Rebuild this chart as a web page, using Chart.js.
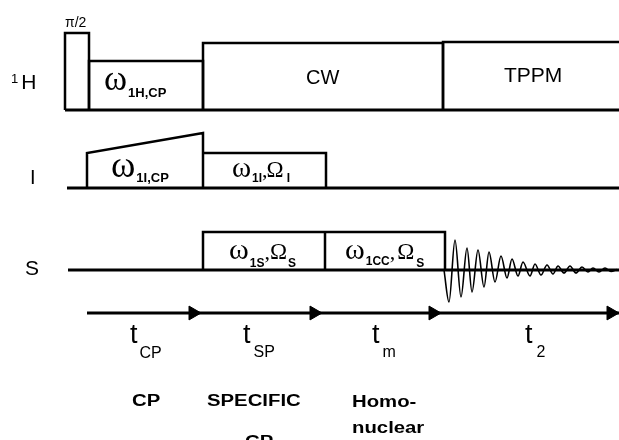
<!DOCTYPE html>
<html>
<head>
<meta charset="utf-8">
<script src="https://cdn.jsdelivr.net/npm/chart.js@4.4.1/dist/chart.umd.min.js"></script>
<style>
  body { margin: 0; background: #fff; }
  #wrap { width: 619px; height: 440px; }
</style>
</head>
<body>
<div id="wrap"><canvas id="seq" width="619" height="440"></canvas></div>
<script>
// Pulse sequence (time runs left -> right, y grows downward)
const sweepEnd = 619;

// 1H channel: pi/2 pulse, CP spin lock, CW decoupling, TPPM decoupling
const hEdges = [65, 89, 203, 443, 619];
const hTops = [33, 61, 43, 42];
const hBase = 110;

// I channel: ramped CP, then selective spin lock
const iStart = 67;
const iBase = 188;
const iRampX = [87, 203];
const iRampTop = [153, 133];
const iSpecEdges = [203, 326];
const iSpecTop = 153;

// S channel: specific CP and homonuclear mixing, then the FID
const sStart = 68;
const sBase = 270;
const sEdges = [203, 325, 445];
const sTop = 232;

// FID extrema (time, level)
const fidTime = [444, 449, 455, 461, 467, 472, 478, 484, 489, 495, 501, 507, 512, 518, 523,
                 530, 535, 541, 547, 553, 558, 564, 570, 576, 582, 588, 593, 599, 605, 611, 617];
const fidLevel = [270, 302, 240, 297, 248, 292, 250, 287, 252, 282, 256, 278, 259, 276, 262,
                  276, 264, 275, 265, 274, 266, 273, 266, 273, 267, 272, 268, 272, 268, 271.5, 269.5];

// time arrow
const arrowY = 313;
const arrowStart = 87;
const arrowHeads = [193, 314, 433, 611];

// fonts
const SERIF = 'Liberation Serif';
const SANS = 'Liberation Sans';

// text labels: start x, baseline y, runs of [text, font, dy, dx]
const labels = [
  { x: 11, y: 83, runs: [['1', '13px ' + SANS], ['H', '21px ' + SANS, 6, 3]] },
  { x: 30, y: 184, runs: [['I', '20px ' + SANS]] },
  { x: 25, y: 275, runs: [['S', '21px ' + SANS]] },
  { x: 65, y: 27, runs: [['\u03c0/2', '14px ' + SANS]] },
  { x: 306, y: 84, runs: [['CW', '20px ' + SANS]] },
  { x: 504, y: 82, runs: [['TPPM', '21px ' + SANS]] },
  { x: 104, y: 90, runs: [['\u03c9', '35px ' + SERIF], ['1H,CP', 'bold 13px ' + SANS, 7, 1]] },
  { x: 111, y: 177, runs: [['\u03c9', '37px ' + SERIF], ['1I,CP', 'bold 13px ' + SANS, 5, 1]] },
  { x: 232, y: 177, runs: [['\u03c9', '29px ' + SERIF], ['1I', 'bold 12px ' + SANS, 5, 1],
                           [',', '22px ' + SERIF, 0, 0], ['\u03a9', '23px ' + SERIF, 0, -1], ['I', 'bold 12px ' + SANS, 5, 3]] },
  { x: 229, y: 259, runs: [['\u03c9', '30px ' + SERIF], ['1S', 'bold 12px ' + SANS, 8, 1],
                           [',', '22px ' + SERIF, 0, 0], ['\u03a9', '23px ' + SERIF, 0, 0], ['S', 'bold 12px ' + SANS, 8, 1]] },
  { x: 345, y: 259, runs: [['\u03c9', '30px ' + SERIF], ['1CC', 'bold 12px ' + SANS, 6, 1],
                           [',', '22px ' + SERIF, 0, 0], ['\u03a9', '23px ' + SERIF, 0, 2], ['S', 'bold 12px ' + SANS, 8, 2]] },
  { x: 130, y: 343, runs: [['t', '27px ' + SANS], ['CP', '16px ' + SANS, 15, 2]] },
  { x: 243, y: 343, runs: [['t', '27px ' + SANS], ['SP', '16px ' + SANS, 14, 3]] },
  { x: 372, y: 343, runs: [['t', '27px ' + SANS], ['m', '16px ' + SANS, 14, 3]] },
  { x: 525, y: 343, runs: [['t', '27px ' + SANS], ['2', '16px ' + SANS, 14, 4]] }
];

// bold step names (stretched wide like the original)
const stepNames = ['CP', 'SPECIFIC', 'CP', 'Homo-', 'nuclear'];
const stepX = [132, 207, 245, 352, 352];
const stepY = [406, 406, 447, 407, 433];

function pts(list) {
  return list.map(p => ({ x: p[0], y: p[1] }));
}

function line(list, width, extra) {
  return Object.assign({
    data: pts(list),
    showLine: true,
    borderColor: '#000',
    borderWidth: width,
    borderJoinStyle: 'miter',
    pointRadius: 0,
    fill: false,
    tension: 0
  }, extra || {});
}

const datasets = [];

// baselines
datasets.push(line([[hEdges[0], hBase], [sweepEnd, hBase]], 3));
datasets.push(line([[iStart, iBase], [sweepEnd, iBase]], 3));
datasets.push(line([[sStart, sBase], [sweepEnd, sBase]], 3));

// 1H pulses
for (let i = 0; i < hTops.length; i++) {
  const shape = [[hEdges[i], hBase], [hEdges[i], hTops[i]], [hEdges[i + 1], hTops[i]]];
  if (hEdges[i + 1] < sweepEnd) shape.push([hEdges[i + 1], hBase]);
  datasets.push(line(shape, 2.5));
}

// I channel ramp + spin lock
datasets.push(line([[iRampX[0], iBase], [iRampX[0], iRampTop[0]], [iRampX[1], iRampTop[1]], [iRampX[1], iBase]], 2.5));
datasets.push(line([[iSpecEdges[0], iSpecTop], [iSpecEdges[1], iSpecTop], [iSpecEdges[1], iBase]], 2.5));

// S channel blocks
datasets.push(line([[sEdges[0], sBase], [sEdges[0], sTop], [sEdges[2], sTop], [sEdges[2], sBase]], 2.5));
datasets.push(line([[sEdges[1], sTop], [sEdges[1], sBase]], 2.5));

// FID
datasets.push(line(fidTime.map((t, i) => [t, fidLevel[i]]), 1.6, { cubicInterpolationMode: 'monotone' }));

// time arrow
datasets.push(line([[arrowStart, arrowY], [sweepEnd, arrowY]], 3));
datasets.push({
  data: arrowHeads.map(x => ({ x: x, y: arrowY })),
  showLine: false,
  pointStyle: 'triangle',
  rotation: 90,
  pointRadius: 8,
  backgroundColor: '#000',
  borderColor: '#000',
  borderWidth: 1,
  clip: false
});

// draw the text on top
const textPlugin = {
  id: 'seqText',
  afterDatasetsDraw(chart) {
    const ctx = chart.ctx;
    const xs = chart.scales.x, ys = chart.scales.y;
    ctx.save();
    ctx.fillStyle = '#000';
    ctx.textBaseline = 'alphabetic';
    ctx.textAlign = 'left';
    labels.forEach(lb => {
      let px = xs.getPixelForValue(lb.x);
      const py = ys.getPixelForValue(lb.y);
      lb.runs.forEach(r => {
        ctx.font = r[1];
        px += (r[3] || 0);
        ctx.fillText(r[0], px, py + (r[2] || 0));
        px += ctx.measureText(r[0]).width;
      });
    });
    ctx.font = 'bold 16px ' + SANS;
    stepNames.forEach((name, i) => {
      ctx.save();
      ctx.translate(xs.getPixelForValue(stepX[i]), ys.getPixelForValue(stepY[i]));
      ctx.scale(1.27, 1);
      ctx.fillText(name, 0, 0);
      ctx.restore();
    });
    ctx.restore();
  }
};

new Chart(document.getElementById('seq').getContext('2d'), {
  type: 'scatter',
  data: { datasets: datasets },
  options: {
    responsive: false,
    animation: false,
    layout: { padding: 0, autoPadding: false },
    plugins: { legend: { display: false }, tooltip: { enabled: false } },
    scales: {
      x: { type: 'linear', min: 0, max: 619, display: false },
      y: { type: 'linear', min: 0, max: 440, reverse: true, display: false }
    }
  },
  plugins: [textPlugin]
});
</script>
</body>
</html>
